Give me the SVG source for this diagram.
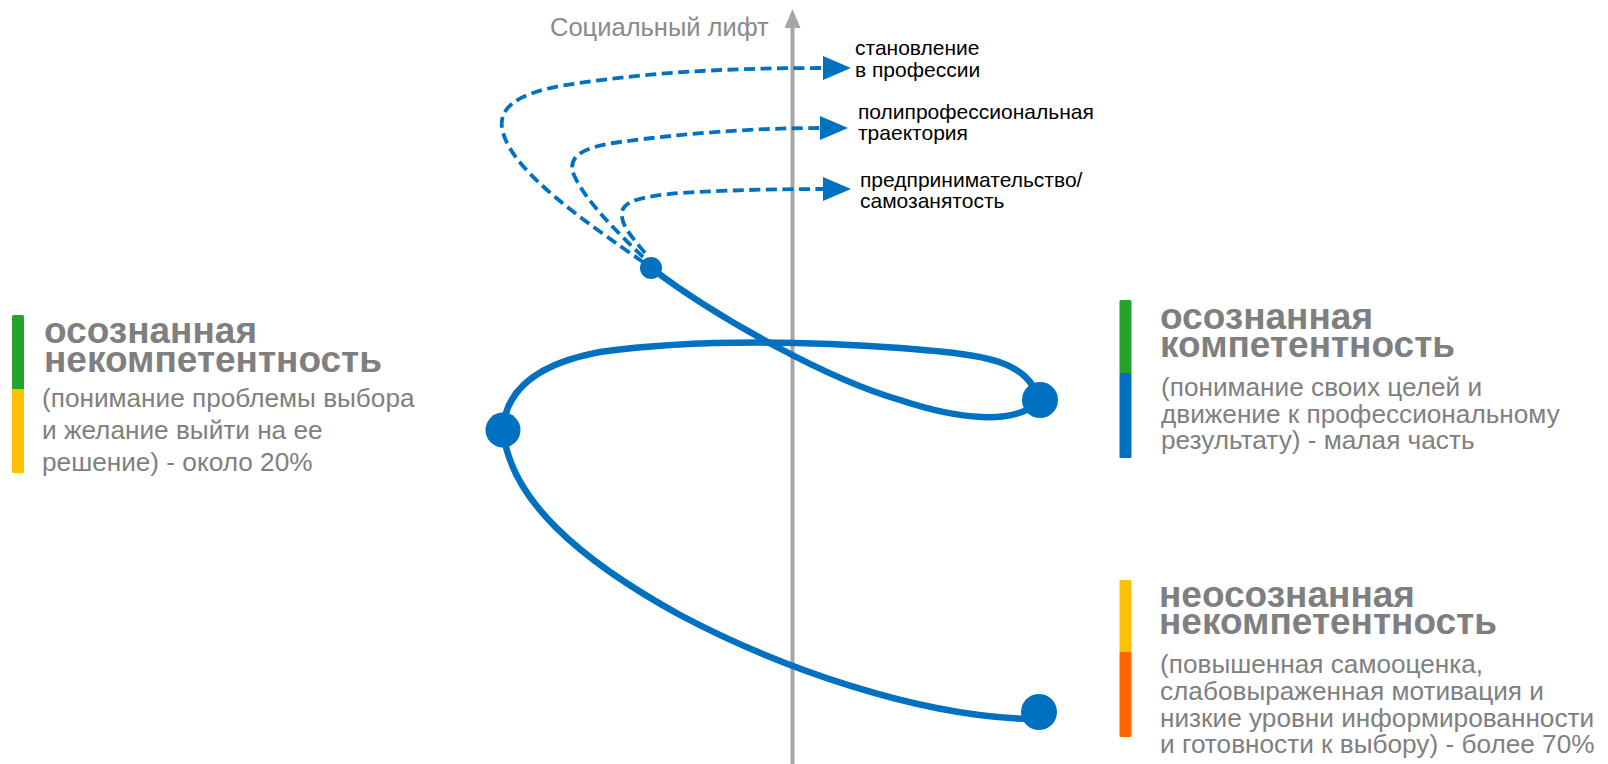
<svg xmlns="http://www.w3.org/2000/svg" width="1608" height="764" viewBox="0 0 1608 764">
<defs>
<style>
.head{font-family:"Liberation Sans",Arial,sans-serif;font-weight:bold;font-size:37px;fill:#7f7f7f}
.body{font-family:"Liberation Sans",Arial,sans-serif;font-size:26.2px;fill:#808080}
.lbl{font-family:"Liberation Sans",Arial,sans-serif;font-size:21px;fill:#000}
.axislbl{font-family:"Liberation Sans",Arial,sans-serif;font-size:25.5px;fill:#8a8a8a}
.solid{fill:none;stroke:#0070c0;stroke-width:6.5;stroke-linecap:round}
.dash{fill:none;stroke:#0070c0;stroke-width:3.8;stroke-dasharray:11 5.5}
.node{fill:#0070c0}
</style>
<marker id="ah" markerUnits="userSpaceOnUse" markerWidth="28" markerHeight="24" viewBox="0 0 28 24" refX="0" refY="12" orient="auto">
<path d="M0,0 L28,12 L0,24 z" fill="#0070c0"/>
</marker>
<marker id="axh" markerUnits="userSpaceOnUse" markerWidth="20" markerHeight="16" viewBox="0 0 20 16" refX="0" refY="8" orient="auto">
<path d="M0,0 L19,8 L0,16 z" fill="#a6a6a6"/>
</marker>
</defs>
<rect width="1608" height="764" fill="#fff"/>

<g id="axis">
<line x1="792.5" y1="764" x2="792.5" y2="28" stroke="#a6a6a6" stroke-width="4" marker-end="url(#axh)"/>
<text class="axislbl" x="550" y="36">Социальный лифт</text>
</g>

<g id="connectors">
<path class="solid" d="M651 268 C720 320,830 380,900 400 C960 420,1012 424,1036 404"/>
<path class="solid" d="M1040 400 C1025 360,990 355,900 348 C820 342,700 338,600 352 C530 365,505 395,503 430"/>
<path class="solid" d="M503 430 C510 500,580 560,680 615 C780 668,920 717,1032 719"/>
<path class="dash" d="M643 262 C590 225,512 172,503 132 C496 108,518 94,560 86 C640 73,720 68,823 68" marker-end="url(#ah)"/>
<path class="dash" d="M643 257 C615 230,585 200,574 175 C566 155,585 147,620 142 C680 134,750 128,820 128" marker-end="url(#ah)"/>
<path class="dash" d="M645 253 C633 238,620 225,622 212 C624 200,645 196,680 193 C730 190,780 189,823 189" marker-end="url(#ah)"/>
</g>

<g id="node-start"><circle class="node" cx="651" cy="268" r="11"/></g>
<g id="node-left"><circle class="node" cx="503" cy="430" r="17.5"/></g>
<g id="node-right"><circle class="node" cx="1040" cy="400" r="18"/></g>
<g id="node-bottom"><circle class="node" cx="1039" cy="712" r="18"/></g>

<g id="label-profession">
<text class="lbl"><tspan x="855" y="55">становление</tspan><tspan x="855" y="77">в профессии</tspan></text>
</g>
<g id="label-poly">
<text class="lbl"><tspan x="858" y="119">полипрофессиональная</tspan><tspan x="858" y="140">траектория</tspan></text>
</g>
<g id="label-business">
<text class="lbl"><tspan x="860" y="187">предпринимательство/</tspan><tspan x="860" y="208">самозанятость</tspan></text>
</g>

<g id="block-left">
<rect x="12" y="315" width="12" height="75" rx="1.5" fill="#26a22e"/>
<rect x="12" y="389" width="12" height="84" rx="1.5" fill="#ffc000"/>
<text class="head"><tspan x="44" y="343">осознанная</tspan><tspan x="44" y="372">некомпетентность</tspan></text>
<text class="body"><tspan x="42" y="407">(понимание проблемы выбора</tspan><tspan x="42" y="439">и желание выйти на ее</tspan><tspan x="42" y="471">решение) - около 20%</tspan></text>
</g>

<g id="block-right-top">
<rect x="1119.5" y="300" width="12" height="74" rx="1.5" fill="#26a22e"/>
<rect x="1119.5" y="373" width="12" height="85" rx="1.5" fill="#0070c0"/>
<text class="head"><tspan x="1160" y="329">осознанная</tspan><tspan x="1160" y="357">компетентность</tspan></text>
<text class="body"><tspan x="1161" y="396">(понимание своих целей и</tspan><tspan x="1161" y="423">движение к профессиональному</tspan><tspan x="1161" y="449">результату) - малая часть</tspan></text>
</g>

<g id="block-right-bottom">
<rect x="1119.5" y="580" width="12" height="73" rx="1.5" fill="#ffc000"/>
<rect x="1119.5" y="652" width="12" height="85" rx="1.5" fill="#ff6600"/>
<text class="head"><tspan x="1159" y="607">неосознанная</tspan><tspan x="1159" y="634">некомпетентность</tspan></text>
<text class="body"><tspan x="1160" y="673">(повышенная самооценка,</tspan><tspan x="1160" y="700">слабовыраженная мотивация и</tspan><tspan x="1160" y="727">низкие уровни информированности</tspan><tspan x="1160" y="753">и готовности к выбору) - более 70%</tspan></text>
</g>
</svg>
